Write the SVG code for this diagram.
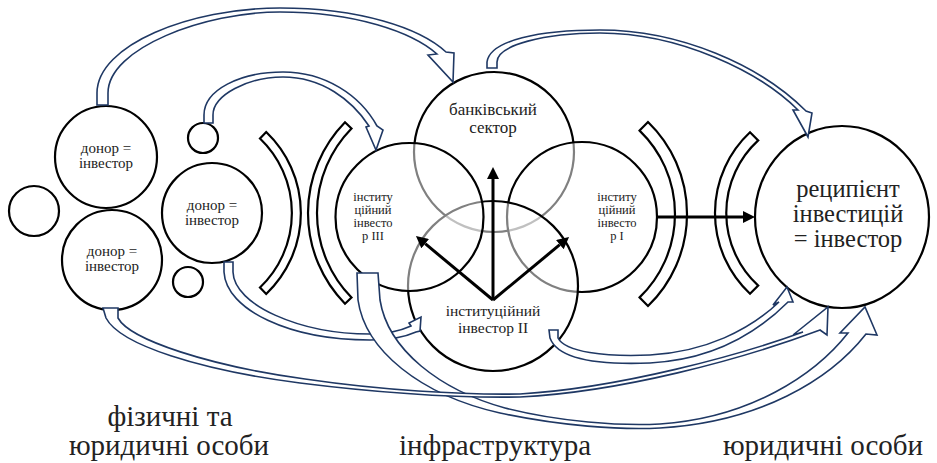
<svg xmlns="http://www.w3.org/2000/svg" width="937" height="463" viewBox="0 0 937 463">
<defs>
<style>
.c{fill:#fff;stroke:#000;stroke-width:2.2}
.v{fill:#fff;fill-opacity:0.5;stroke:#000;stroke-width:2.2}
.br{fill:#fff;stroke:#000;stroke-width:2.2}
.t{font-family:"Liberation Serif","Times New Roman",serif;fill:#222;text-anchor:middle}
.ba{fill:#fff;stroke:#1f3864;stroke-width:1.6;stroke-linejoin:miter}
.ka{fill:none;stroke:#000;stroke-width:3}
</style>
<marker id="ah" markerUnits="userSpaceOnUse" markerWidth="13" markerHeight="12" refX="0" refY="6" orient="auto">
<path d="M0,0 L12,6 L0,12 Z" fill="#000"/>
</marker>
</defs>
<rect width="937" height="463" fill="#fff"/>

<g id="small-circles">
<circle class="c" cx="34" cy="211" r="25"/>
<circle class="c" cx="203" cy="138" r="15"/>
<circle class="c" cx="188" cy="282" r="15"/>
</g>

<g id="donor1" font-family="Liberation Serif, serif">
<circle class="c" cx="106" cy="157" r="51"/>
<text class="t" x="106" y="153" font-size="15">донор =</text>
<text class="t" x="106" y="168" font-size="15">інвестор</text>
</g>
<g id="donor2" font-family="Liberation Serif, serif">
<circle class="c" cx="112" cy="260" r="50"/>
<text class="t" x="112" y="256" font-size="15">донор =</text>
<text class="t" x="112" y="271" font-size="15">інвестор</text>
</g>
<g id="donor3" font-family="Liberation Serif, serif">
<circle class="c" cx="212" cy="213" r="50"/>
<text class="t" x="212" y="210" font-size="15">донор =</text>
<text class="t" x="212" y="225" font-size="15">інвестор</text>
</g>

<g id="brackets">
<path class="br" d="M266.2,132 A112,112 0 0 1 266.2,294 L260,287.5 A103,103 0 0 0 260,138.5 Z"/>
<path class="br" d="M345,122.3 A129.7,129.7 0 0 0 345,303.7 L351.5,297.5 A120.7,120.7 0 0 1 351.5,128.5 Z"/>
<path class="br" d="M648,122 A128,128 0 0 1 648,306 L639.6,297.4 A116,116 0 0 0 639.6,130.6 Z"/>
<path class="br" d="M750,132.3 A110.5,110.5 0 0 0 750,293.7 L758.2,285.6 A98.5,98.5 0 0 1 758.2,140.4 Z"/>
</g>

<g id="banking" font-family="Liberation Serif, serif">
<circle class="v" cx="494" cy="152" r="80"/>
<text class="t" x="493" y="115" font-size="17">банківський</text>
<text class="t" x="493" y="133" font-size="17">сектор</text>
</g>
<g id="investor1" font-family="Liberation Serif, serif">
<circle class="v" cx="582" cy="217" r="75"/>
<text class="t" x="617" y="201" font-size="12.5">інститу</text>
<text class="t" x="617" y="214" font-size="12.5">ційний</text>
<text class="t" x="617" y="227" font-size="12.5">інвесто</text>
<text class="t" x="617" y="240" font-size="12.5">р І</text>
</g>
<g id="investor2" font-family="Liberation Serif, serif">
<circle class="v" cx="493" cy="286" r="85"/>
<text class="t" x="493" y="316" font-size="15.5">інституційний</text>
<text class="t" x="493" y="333" font-size="15.5">інвестор ІІ</text>
</g>
<g id="investor3" font-family="Liberation Serif, serif">
<circle class="v" cx="409.5" cy="217" r="74"/>
<text class="t" x="373" y="201" font-size="12.5">інститу</text>
<text class="t" x="373" y="214" font-size="12.5">ційний</text>
<text class="t" x="373" y="227" font-size="12.5">інвесто</text>
<text class="t" x="373" y="240" font-size="12.5">р ІІІ</text>
</g>

<g id="recipient" font-family="Liberation Serif, serif">
<ellipse class="c" cx="842" cy="217" rx="87" ry="91"/>
<text class="t" x="848" y="197" font-size="24.5">реципієнт</text>
<text class="t" x="848" y="222" font-size="24.5">інвестицій</text>
<text class="t" x="848" y="247" font-size="24.5">= інвестор</text>
</g>

<g id="connectors">
<line class="ka" x1="493" y1="300" x2="493" y2="179" marker-end="url(#ah)"/>
<line class="ka" x1="493" y1="300" x2="425.2" y2="243.7" marker-end="url(#ah)"/>
<line class="ka" x1="493" y1="300" x2="559.8" y2="244.7" marker-end="url(#ah)"/>
<line class="ka" x1="657" y1="217" x2="743" y2="217" marker-end="url(#ah)"/>

<path class="ba" d="M97,105 L97,93 C97,45 190,8 280,8 C360,8 420,28 446,52 L454,53 L453,82 L428,55 L437,54 C412,32 355,12 280,12 C205,12 108,48 108,93 L108,105 Z"/>
<path class="ba" d="M204,123 L204,115 C204,90 240,72 283,72 C325,72 360,95 377,126 L383,130 L376,150 L366,127 L369,126 C352,100 322,77 283,77 C248,77 213,95 213,115 L213,123 Z"/>
<path class="ba" d="M487,68 L487,62 C490,40 540,30 600,30 C680,30 760,65 806,111 L812,113 L808,137 L793,110 L798,110 C760,72 680,33 600,33 C545,33 497,45 497,62 L497,68 Z"/>
<path class="ba" d="M224,262 L224,272 C226,310 290,340 370,340 C390,340 405,337 416,332 L420,331 L421,317 L409,323 L411,326 C400,331 388,334 370,334 C300,334 234,305 233,272 L233,262 Z"/>
<path class="ba" d="M357,273 L358,300 C365,350 420,395 500,413 C560,426 620,430 660,428 C760,422 830,380 866,334 L877,335 L865,307 L840,333 L848,333 C815,375 750,418 660,424 C620,426 560,422 505,408 C440,390 388,350 380,300 L378,273 Z"/>
<path class="ba" d="M103,308 L106,318 C120,345 200,370 300,383 C380,393 460,398 520,397 C620,392 740,360 820,330 L827,335 L828,307 L793,335 L803,332 C740,355 620,388 520,394 C460,395 380,390 305,379 C210,366 130,340 118,318 L118,308 Z"/>
<path class="ba" d="M549,330 L550,338 C558,360 600,365 650,363 C710,360 755,335 788,302 L793,302 L787,287 L773,305 L779,302 C750,330 705,352 650,355 C605,357 565,352 558,338 L558,330 Z"/>
</g>

<g id="labels" font-family="Liberation Serif, serif">
<text class="t" x="170" y="426" font-size="29">фізичні та</text>
<text class="t" x="169" y="455" font-size="29">юридичні особи</text>
<text class="t" x="495" y="455" font-size="29">інфраструктура</text>
<text class="t" x="823" y="455" font-size="29">юридичні особи</text>
</g>
</svg>
